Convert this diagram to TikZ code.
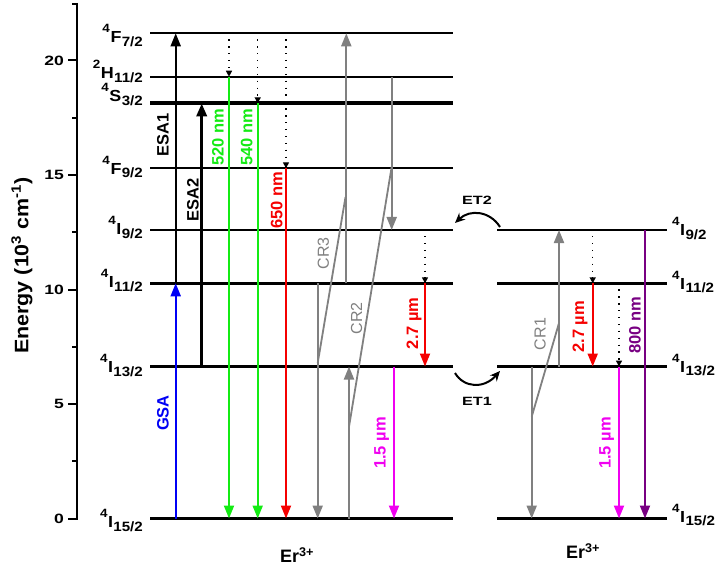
\documentclass[tikz,border=0pt]{standalone}
\usepackage{fontspec}
\setmainfont{Liberation Sans}
\usetikzlibrary{arrows.meta}
\definecolor{cgreen}{RGB}{20,235,20}
\definecolor{cred}{RGB}{245,0,0}
\definecolor{cblue}{RGB}{0,0,245}
\definecolor{cmag}{RGB}{240,0,240}
\definecolor{cpurp}{RGB}{120,0,130}
\definecolor{cgray}{RGB}{128,128,128}
\newcommand{\erlvl}[3]{\scalebox{1.12}[1]{\raisebox{10pt}{\fontsize{12}{12}\selectfont #1}\kern0.5pt#2\kern0.3pt\raisebox{-3.5pt}{\fontsize{13.5}{13.5}\selectfont #3}}}
\tikzset{
  lvl/.style={line width=2.2pt},
  lvlthick/.style={line width=3.6pt},
  tr/.style={line width=2pt,-{Triangle[length=13pt,width=10pt]}},
  dot/.style={line width=1.4pt,dash pattern=on 1.4pt off 5.5pt,-{Triangle[length=6pt,width=6pt]}},
  cr/.style={line width=1.8pt,cgray},
  rlab/.style={rotate=90,font=\bfseries\fontsize{16.5}{16.5}\selectfont,inner sep=0pt},
  crlab/.style={rotate=90,font=\fontsize{16}{16}\selectfont,inner sep=0pt,cgray},
  llab/.style={anchor=east,font=\bfseries\fontsize{16}{16}\selectfont,inner sep=0pt},
  rllab/.style={anchor=west,font=\bfseries\fontsize{16}{16}\selectfont,inner sep=0pt},
  tick/.style={line width=2pt},
  ticklab/.style={anchor=east,font=\bfseries\fontsize{13.5}{13.5}\selectfont,inner sep=0pt},
}
\begin{document}
\begin{tikzpicture}[x=1pt,y=-1pt]
\useasboundingbox (0,0) rectangle (719,569);
% levels y
\def\yF{33.3}\def\yH{76.7}\def\yS{103.3}\def\yFn{168.3}\def\yIn{230}\def\yIe{283.3}\def\yIt{366.5}\def\yIf{518.5}
% axis
\draw[tick] (77,3) -- (77,519.5);
\foreach \v/\y in {0/518.5,5/404,10/289.5,15/175,20/60.5}{
  \draw[tick] (68,\y) -- (77,\y);
  \node[ticklab] at (64,\y) {\scalebox{1.3}[1]{\v}};
}
\foreach \y in {461.25,346.75,232.25,117.75,4}{\draw[tick] (72,\y) -- (77,\y);}
\node[rotate=90,font=\bfseries\fontsize{19.5}{19.5}\selectfont] (ylab) at (22,265.5) {\scalebox{1.1}[1]{Energy (10\textsuperscript{3} cm\textsuperscript{-1})}};
% left levels
\draw[lvl] (150,\yF) -- (453,\yF);
\draw[lvl] (150,\yH) -- (453,\yH);
\draw[lvlthick] (150,\yS) -- (453,\yS);
\draw[lvl] (150,\yFn) -- (453,\yFn);
\draw[lvl] (150,\yIn) -- (453,\yIn);
\draw[lvlthick] (150,\yIe) -- (453,\yIe);
\draw[lvl] (150,\yIt) -- (453,\yIt);
\draw[lvl] (150,\yIf) -- (453,\yIf);
\node[llab] (lF72) at (143,\yF+2) {\erlvl{4}{F}{7/2}};
\node[llab] (lH112) at (143,\yH-5.5) {\erlvl{2}{H}{11/2}};
\node[llab] (lS32) at (143,\yS-9) {\erlvl{4}{S}{3/2}};
\node[llab] (lF92) at (143,\yFn-1.5) {\erlvl{4}{F}{9/2}};
\node[llab] (lI92) at (143,\yIn-2.5) {\erlvl{4}{I}{9/2}};
\node[llab] (lI112) at (143,\yIe-3) {\erlvl{4}{I}{11/2}};
\node[llab] (lI132) at (143,\yIt-1) {\erlvl{4}{I}{13/2}};
\node[llab] (lI152) at (143,\yIf+2) {\erlvl{4}{I}{15/2}};
% right levels
\draw[lvl] (497,\yIn) -- (667,\yIn);
\draw[lvlthick] (497,\yIe) -- (667,\yIe);
\draw[lvl] (497,\yIt) -- (667,\yIt);
\draw[lvl] (497,\yIf) -- (667,\yIf);
\node[rllab] (rI92) at (672,\yIn-1.5) {\erlvl{4}{I}{9/2}};
\node[rllab] (rI112) at (672,\yIe-1.5) {\erlvl{4}{I}{11/2}};
\node[rllab] (rI132) at (672,\yIt-1.5) {\erlvl{4}{I}{13/2}};
\node[rllab] (rI152) at (672,\yIf-3.5) {\erlvl{4}{I}{15/2}};
% left transitions
\draw[tr] (175.7,\yIe) -- (175.7,\yF);
\draw[tr,cblue] (175.7,\yIf) -- (175.7,\yIe);
\draw[tr,line width=3.4pt] (201.7,\yIt) -- (201.7,\yS);
\draw[tr,cgreen] (229,\yH) -- (229,\yIf);
\draw[dot] (229,\yF+6) -- (229,\yH);
\draw[tr,cgreen] (257.7,\yS) -- (257.7,\yIf);
\draw[dot] (257.7,\yF+6) -- (257.7,\yS);
\draw[tr,cred] (286,\yFn) -- (286,\yIf);
\draw[dot] (286,\yF+6) -- (286,\yFn);
\draw[tr,cgray] (317.7,\yIe) -- (317.7,\yIf);
\draw[tr,cgray] (346.3,\yIe) -- (346.3,\yF);
\draw[cr] (317.7,363) -- (345.5,197);
\draw[tr,cgray] (349,\yIf) -- (349,\yIt);
\draw[tr,cgray] (391.7,\yH) -- (391.7,\yIn);
\draw[cr] (349,426.7) -- (391.7,166.7);
\draw[tr,cred] (425,\yIe) -- (425,\yIt);
\draw[dot] (425,\yIn+6) -- (425,\yIe);
\draw[tr,cmag] (394,\yIt) -- (394,\yIf);
% right transitions
\draw[tr,cgray] (559,\yIt) -- (559,\yIn);
\draw[tr,cgray] (531.7,\yIt) -- (531.7,\yIf);
\draw[cr] (531.7,416.7) -- (559,323);
\draw[tr,cred] (592.7,\yIe) -- (592.7,\yIt);
\draw[dot] (592.7,\yIn+6) -- (592.7,\yIe);
\draw[tr,cmag] (619,\yIt) -- (619,\yIf);
\draw[dot] (619,\yIe+6) -- (619,\yIt);
\draw[tr,cpurp] (645,\yIn) -- (645,\yIf);
% labels
\node[rlab] (esa1) at (163,135) {ESA1};
\node[rlab] (esa2) at (193,200) {ESA2};
\node[rlab,cblue] (gsa) at (163,413) {GSA};
\node[rlab,cgreen] (l520) at (218,137) {520 nm};
\node[rlab,cgreen] (l540) at (246.7,137) {540 nm};
\node[rlab,cred] (l650) at (276.7,200) {650 nm};
\node[crlab] (cr3) at (323.3,253.3) {CR3};
\node[crlab] (cr2) at (356.7,318.3) {CR2};
\node[crlab] (cr1) at (540,334) {CR1};
\node[rlab,cred] (l27a) at (414,323.3) {2.7 µm};
\node[rlab,cmag] (l15a) at (381.7,443) {1.5 µm};
\node[rlab,cred] (l27b) at (580,326.7) {2.7 µm};
\node[rlab,cmag] (l15b) at (606.7,443) {1.5 µm};
\node[rlab,cpurp] (l800) at (635,325) {800 nm};
% ET arrows
\coordinate (et2a) at (500,227);
\coordinate (et2b) at (455,223);
\coordinate (et1a) at (455,373);
\coordinate (et1b) at (500,371);
\draw[line width=2pt,-{Stealth[length=10pt,width=9pt]}] (et2a) .. controls (490,211) and (470,209) .. (et2b);
\draw[line width=2pt,-{Stealth[length=10pt,width=9pt]}] (et1a) .. controls (464,388) and (484,389) .. (et1b);
\node[font=\bfseries\fontsize{12}{12}\selectfont] (et2) at (477,200) {\scalebox{1.35}[1]{ET2}};
\node[font=\bfseries\fontsize{12}{12}\selectfont] (et1) at (477,401) {\scalebox{1.35}[1]{ET1}};
\node[font=\bfseries\fontsize{18}{18}\selectfont] (er1) at (297,555) {Er\textsuperscript{3+}};
\node[font=\bfseries\fontsize{18}{18}\selectfont] (er2) at (583,551) {Er\textsuperscript{3+}};
\end{tikzpicture}
\end{document}
